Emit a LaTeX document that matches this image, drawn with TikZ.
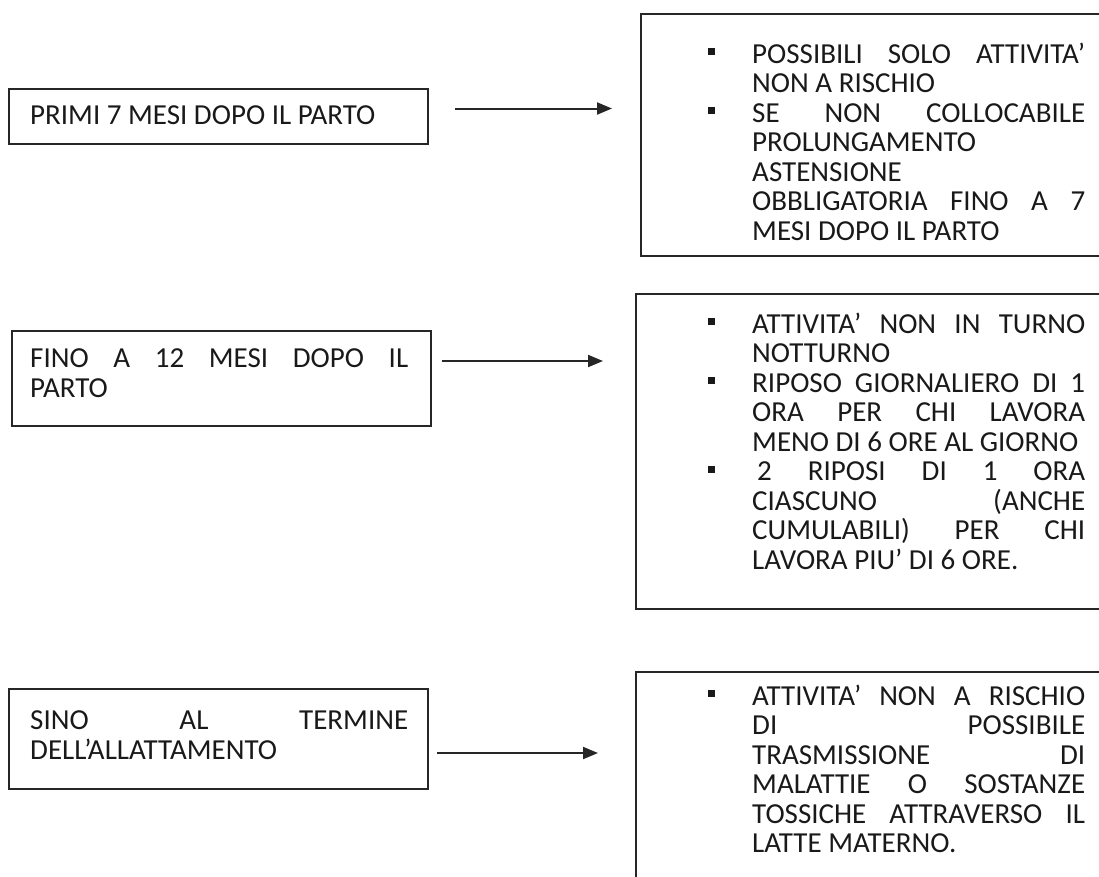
\documentclass[tikz,border=0pt]{standalone}
\usepackage{fontspec}
\setmainfont{Carlito}
\usetikzlibrary{arrows.meta,calc}
\setlength{\parindent}{0pt}
\newcommand{\topstrut}{\rule{0pt}{20pt}}
\newcommand{\boxtext}[2]{\parbox[t]{#1}{\raggedright\topstrut #2}}
\newcommand{\jline}[1]{\makebox[\hsize][s]{#1}}
\newcommand{\sqbul}{\leavevmode\llap{\raisebox{8pt}{\rule{7pt}{7pt}}\hspace{37.5pt}}}

\tikzset{
  frame/.style={draw=black!85, line width=2pt, anchor=north west, inner sep=0pt},
  boxlabel/.style={anchor=north west, inner sep=0pt, text=black!90,
    font=\fontsize{29}{29.5}\selectfont},
  arr/.style={line width=2pt, draw=black!85, -{Triangle[length=15pt,width=12pt]}}
}

\begin{document}
\begin{tikzpicture}[x=1pt,y=-1pt]
\useasboundingbox (0,0) rectangle (1099,876);
% left column
\node[frame, minimum width=419pt, minimum height=55pt] (l1) at (8,88) {};
\node[frame, minimum width=419pt, minimum height=95pt] (l2) at (11,330) {};
\node[frame, minimum width=419pt, minimum height=100pt] (l3) at (8,688) {};
\node[boxlabel] (l1txt) at ($(l1.north west)+(22,16.5)$) {\boxtext{378pt}{PRIMI 7 MESI DOPO IL PARTO}};
\node[boxlabel] (l2txt) at ($(l2.north west)+(19,17.5)$) {\boxtext{378pt}{\jline{FINO A 12 MESI DOPO IL}\\
  PARTO}};
\node[boxlabel] (l3txt) at ($(l3.north west)+(22,21.5)$) {\boxtext{378pt}{\jline{SINO AL TERMINE}\\
  DELL’ALLATTAMENTO}};
% right column
\node[frame, minimum width=480pt, minimum height=242pt] (r1) at (640,13) {};
\node[frame, minimum width=485pt, minimum height=315pt] (r2) at (635,293) {};
\node[frame, minimum width=485pt, minimum height=260pt] (r3) at (635,671) {};
\node[boxlabel] (r1txt) at ($(r1.north west)+(112,29.5)$) {\boxtext{333pt}{\sqbul\jline{POSSIBILI SOLO ATTIVITA’}\\
  NON A RISCHIO\\
  \sqbul\jline{SE NON COLLOCABILE}\\
  PROLUNGAMENTO\\
  ASTENSIONE\\
  \jline{OBBLIGATORIA FINO A 7}\\
  MESI DOPO IL PARTO}};
\node[boxlabel] (r2txt) at ($(r2.north west)+(117,19.5)$) {\boxtext{333pt}{\sqbul\jline{ATTIVITA’ NON IN TURNO}\\
  NOTTURNO\\
  \sqbul\jline{RIPOSO GIORNALIERO DI 1}\\
  \jline{ORA PER CHI LAVORA}\\
  MENO DI 6 ORE AL GIORNO\\
  \sqbul\jline{\hspace{5pt}2 RIPOSI DI 1 ORA}\\
  \jline{CIASCUNO (ANCHE}\\
  \jline{CUMULABILI) PER CHI}\\
  LAVORA PIU’ DI 6 ORE.}};
\node[boxlabel] (r3txt) at ($(r3.north west)+(117,13.5)$) {\boxtext{333pt}{\sqbul\jline{ATTIVITA’ NON A RISCHIO}\\
  \jline{DI POSSIBILE}\\
  \jline{TRASMISSIONE DI}\\
  \jline{MALATTIE O SOSTANZE}\\
  \jline{TOSSICHE ATTRAVERSO IL}\\
  LATTE MATERNO.}};
% arrows
\draw[arr] ($(l1.east)+(26,-8)$) -- ($(l1.east -| r1.west)+(-28,-8)$);
\draw[arr] ($(l2.east)+(10,-17.5)$) -- ($(l2.east -| r2.west)+(-32,-17.5)$);
\draw[arr] ($(l3.east)+(8,14)$) -- ($(l3.east -| r3.west)+(-37,14)$);
\end{tikzpicture}
\end{document}
